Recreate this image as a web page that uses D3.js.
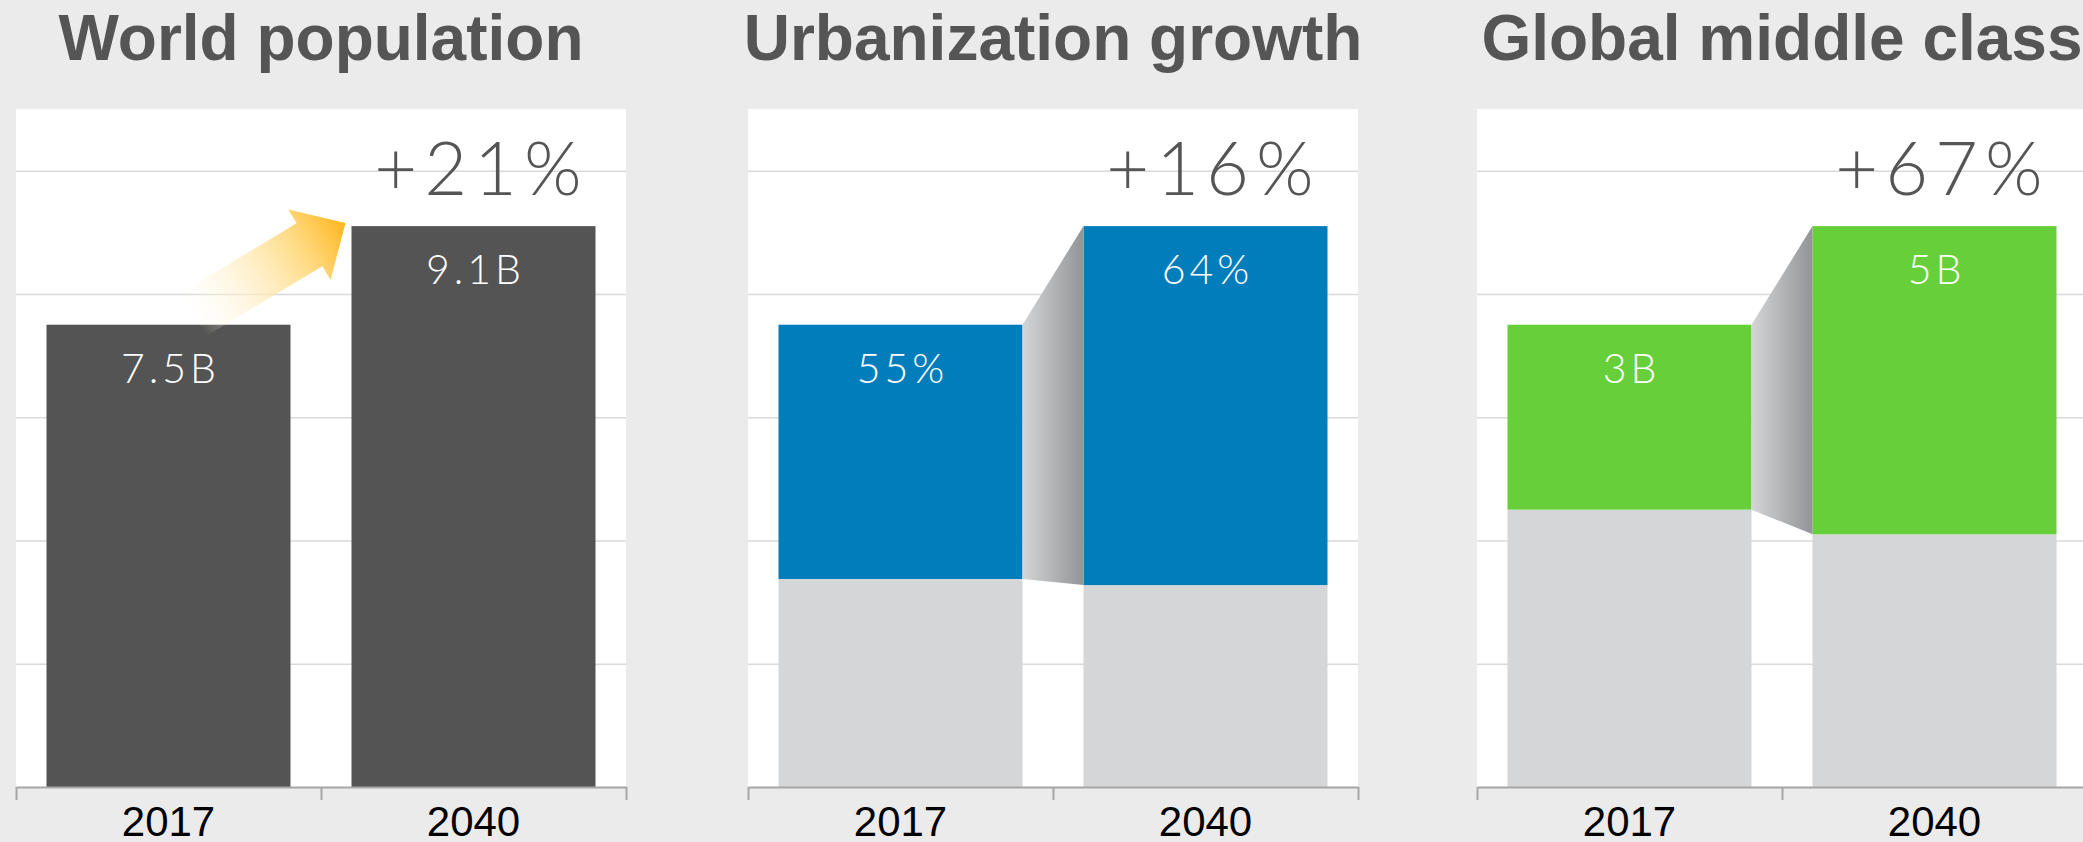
<!DOCTYPE html>
<html>
<head>
<meta charset="utf-8">
<script src="https://cdn.jsdelivr.net/npm/d3@7"></script>
<style>
  body { margin: 0; background: #ebebeb; }
  svg { display: block; }
  .title { font-family: "Liberation Sans", Arial, sans-serif; font-weight: bold; font-size: 64px; fill: #555; }
  .growth { font-family: Lato, "Open Sans", sans-serif; font-weight: 300; font-size: 74px; fill: #555; letter-spacing: 7px; }
  .value { font-family: Lato, "Open Sans", sans-serif; font-weight: 300; font-size: 41px; fill: #fff; letter-spacing: 4px; }
  .grid line { stroke: #d9d9d9; stroke-width: 1.5px; }
  .grid .domain { display: none; }
  .axis path, .axis line { stroke: #a6a6a6; stroke-width: 2px; }
  .axis text { font-family: "Liberation Sans", Arial, sans-serif; font-size: 42px; fill: #000; }
</style>
</head>
<body>
<svg id="svgId" width="2083" height="842"></svg>
<script>
// data
const years = ["2017", "2040"];
const population = [7.5, 9.1];      // billions
const urbanShare = [0.55, 0.64];
const middleClass = [3, 5];         // billions
const titles = ["World population", "Urbanization growth", "Global middle class"];
const growthLabels = ["+21%", "+16%", "+67%"];
const valueLabels = [["7.5B", "9.1B"], ["55%", "64%"], ["3B", "5B"]];
const gridTicks = [2, 4, 6, 8, 10];
const yMax = 11;

const svg = d3.select("svg");
const width = parseInt(svg.attr("width"));
const height = parseInt(svg.attr("height"));

const plotTop = 109, plotBottom = 787, panelW = 610;
const panelX = [16, 748, 1477];
const grey = "#d5d6d8";

const y = d3.scaleLinear().domain([0, yMax]).range([plotBottom, plotTop]);
const x = d3.scaleBand().domain(years).range([0, panelW]).paddingInner(0.2).paddingOuter(0.1);
const bw = x.bandwidth();

// stacked segments for each panel
const panels = [
    years.map((yr, i) => [{year: yr, y0: 0, y1: population[i], fill: "#545454"}]),
    years.map((yr, i) => {
        const rest = population[i] * (1 - urbanShare[i]);
        return [{year: yr, y0: 0, y1: rest, fill: grey},
                {year: yr, y0: rest, y1: population[i], fill: "#027dbc"}];
    }),
    years.map((yr, i) => {
        const rest = population[i] - middleClass[i];
        return [{year: yr, y0: 0, y1: rest, fill: grey},
                {year: yr, y0: rest, y1: population[i], fill: "#66cf39"}];
    })
];

const defs = svg.append("defs");

const conn = defs.append("linearGradient").attr("id", "connGrad")
    .attr("x1", 0).attr("x2", 1).attr("y1", 0).attr("y2", 0);
conn.append("stop").attr("offset", 0).attr("stop-color", "#d4d5d6");
conn.append("stop").attr("offset", 1).attr("stop-color", "#929497");

const arrowGrad = defs.append("linearGradient").attr("id", "arrowGrad")
    .attr("x1", 0).attr("x2", 1).attr("y1", 0).attr("y2", 0);
arrowGrad.append("stop").attr("offset", 0).attr("stop-color", "#fff8e6").attr("stop-opacity", 0);
arrowGrad.append("stop").attr("offset", 0.3).attr("stop-color", "#fff0cc").attr("stop-opacity", 0.6);
arrowGrad.append("stop").attr("offset", 0.7).attr("stop-color", "#ffd777").attr("stop-opacity", 0.9);
arrowGrad.append("stop").attr("offset", 1).attr("stop-color", "#ffb61c").attr("stop-opacity", 1);

panels.forEach(function (bars, p) {
    const g = svg.append("g").attr("transform", `translate(${panelX[p]},0)`);

    svg.append("text")
        .attr("class", "title")
        .attr("x", panelX[p] + panelW / 2)
        .attr("y", 60)
        .attr("text-anchor", "middle")
        .text(titles[p]);

    g.append("rect")
        .attr("x", 0).attr("y", plotTop)
        .attr("width", panelW).attr("height", plotBottom - plotTop)
        .attr("fill", "#fff");

    //gridlines
    g.append("g")
        .attr("class", "grid")
        .call(d3.axisLeft(y).tickValues(gridTicks).tickSize(-panelW).tickFormat(""));

    //bars
    g.selectAll("g.bar")
        .data(bars)
        .enter()
        .append("g")
        .attr("class", "bar")
        .selectAll("rect")
        .data(d => d)
        .enter()
        .append("rect")
        .attr("x", d => x(d.year))
        .attr("y", d => y(d.y1))
        .attr("width", bw)
        .attr("height", d => y(d.y0) - y(d.y1))
        .attr("fill", d => d.fill);

    const a = bars[0][bars[0].length - 1];
    const b = bars[1][bars[1].length - 1];

    if (p > 0) {
        //grey connector between the coloured parts
        const pts = [
            [x(a.year) + bw, y(a.y1)],
            [x(b.year), y(b.y1)],
            [x(b.year), y(b.y0)],
            [x(a.year) + bw, y(a.y0)]
        ];
        g.append("path")
            .attr("d", d3.line()(pts) + "Z")
            .attr("fill", "url(#connGrad)");
    } else {
        //orange arrow
        const tail = [x(a.year) + bw * 0.6, y(a.y1) - 10];
        const tip = [x(b.year) - 6, y(b.y1) - 3];
        const len = Math.hypot(tip[0] - tail[0], tip[1] - tail[1]);
        const ang = Math.atan2(tip[1] - tail[1], tip[0] - tail[0]) * 180 / Math.PI;
        const hl = 42, sw = 25, hw = 41;
        const shape = [[0, -sw], [len - hl, -sw], [len - hl, -hw], [len, 0],
                       [len - hl, hw], [len - hl, sw], [0, sw]];
        g.append("path")
            .attr("transform", `translate(${tail[0]},${tail[1]}) rotate(${ang})`)
            .attr("d", d3.line()(shape) + "Z")
            .attr("fill", "url(#arrowGrad)");
    }

    //value labels
    g.selectAll("text.value")
        .data(bars.map(d => d[d.length - 1]))
        .enter()
        .append("text")
        .attr("class", "value")
        .attr("x", d => x(d.year) + bw / 2 + 2)
        .attr("y", d => y(d.y1) + 58)
        .attr("text-anchor", "middle")
        .text((d, i) => valueLabels[p][i]);

    //growth label
    g.append("text")
        .attr("class", "growth")
        .attr("x", x(b.year) + bw / 2 + 8)
        .attr("y", y(b.y1) - 31)
        .attr("text-anchor", "middle")
        .text(growthLabels[p]);

    //axis
    const ax = g.append("g")
        .attr("class", "axis")
        .attr("transform", `translate(0,${plotBottom})`);
    ax.call(d3.axisBottom(d3.scaleLinear().domain([0, years.length]).range([0, panelW]))
        .tickValues(d3.range(years.length + 1)).tickSize(13).tickSizeOuter(0).tickFormat(""));
    const lab = g.append("g")
        .attr("class", "axis")
        .attr("transform", `translate(0,${plotBottom})`)
        .call(d3.axisBottom(x).tickSize(0));
    lab.select(".domain").remove();
    lab.selectAll("text").attr("y", 49).attr("dy", 0);
});
</script>
</body>
</html>
